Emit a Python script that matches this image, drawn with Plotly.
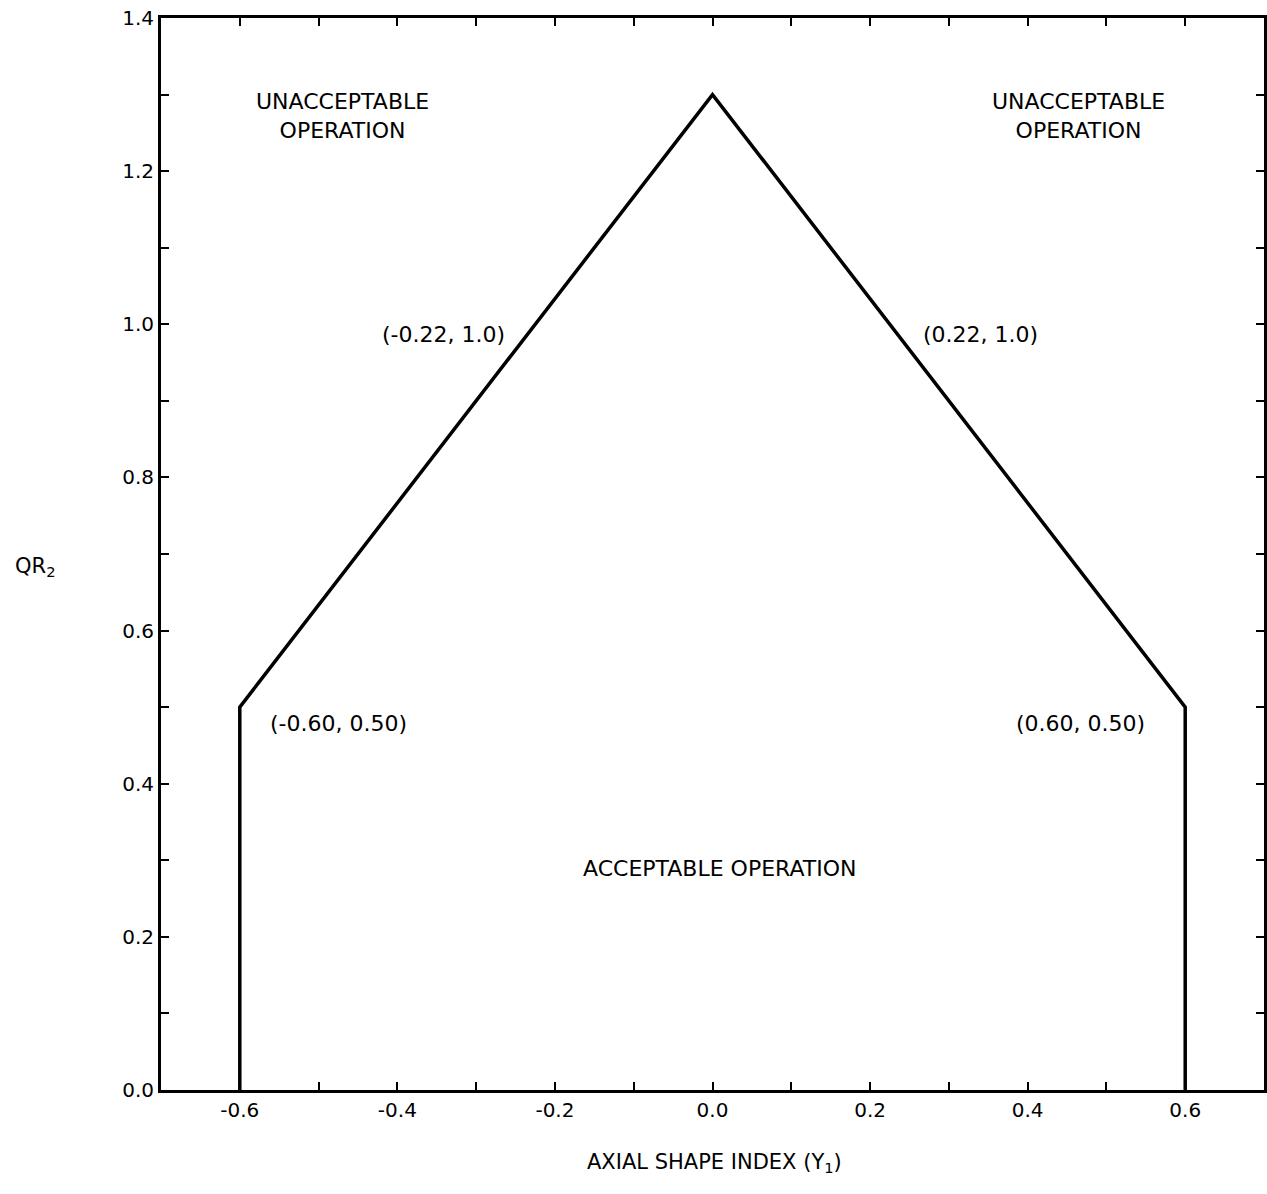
import plotly.graph_objects as go

# Operating boundary: axial shape index vs QR2
boundary_x = [-0.60, -0.60, 0.00, 0.60, 0.60]
boundary_y = [0.00, 0.50, 1.30, 0.50, 0.00]

# Region and point labels (text, x, y)
label_text = ["UNACCEPTABLE<br>OPERATION", "UNACCEPTABLE<br>OPERATION",
              "(-0.22, 1.0)", "(0.22, 1.0)",
              "(-0.60, 0.50)", "(0.60, 0.50)",
              "ACCEPTABLE OPERATION"]
label_x = [-0.47, 0.465, -0.342, 0.34, -0.475, 0.467, 0.009]
label_y = [1.272, 1.272, 0.987, 0.987, 0.479, 0.479, 0.289]

# Labelled ticks (every 0.2); unlabelled minor ticks every 0.1
x_tick_vals = [-0.6, -0.4, -0.2, 0.0, 0.2, 0.4, 0.6]
x_tick_text = ["-0.6", "-0.4", "-0.2", "0.0", "0.2", "0.4", "0.6"]
y_tick_vals = [0.0, 0.2, 0.4, 0.6, 0.8, 1.0, 1.2, 1.4]
y_tick_text = ["0.0", "0.2", "0.4", "0.6", "0.8", "1.0", "1.2", "1.4"]

FONT = "DejaVu Sans, Verdana, sans-serif"

fig = go.Figure()
fig.add_trace(go.Scatter(
    x=boundary_x, y=boundary_y, mode="lines",
    line=dict(color="black", width=3.5),
    hoverinfo="skip", showlegend=False,
))

for t, x, y in zip(label_text, label_x, label_y):
    fig.add_annotation(x=x, y=y, text=t, showarrow=False,
                       font=dict(family=FONT, size=22, color="black"),
                       xanchor="center", yanchor="middle", align="center")

fig.add_annotation(xref="paper", yref="paper", x=-0.114, y=0.488,
                   text="QR<sub>2</sub>", showarrow=False,
                   font=dict(family=FONT, size=21, color="black"),
                   xanchor="center", yanchor="middle")
fig.add_annotation(xref="paper", yref="paper", x=0.502, y=-0.068,
                   text="AXIAL SHAPE INDEX (Y<sub>1</sub>)", showarrow=False,
                   font=dict(family=FONT, size=21, color="black"),
                   xanchor="center", yanchor="middle")

axis_common = dict(
    showgrid=False, zeroline=False,
    showline=True, linecolor="black", linewidth=3, mirror="allticks",
    ticks="inside", ticklen=8, tickwidth=2, tickcolor="black",
    tickfont=dict(family=FONT, size=20, color="black"),
    tickmode="array",
    minor=dict(dtick=0.1, ticks="inside", ticklen=8, tickwidth=2, tickcolor="black", showgrid=False),
)

fig.update_xaxes(range=[-0.7, 0.7], tickvals=x_tick_vals, ticktext=x_tick_text, **axis_common)
fig.update_yaxes(range=[0.0, 1.4], tickvals=y_tick_vals, ticktext=y_tick_text, **axis_common)

fig.update_layout(
    width=1267, height=1194,
    margin=dict(l=161, r=0, t=18, b=104),
    paper_bgcolor="white", plot_bgcolor="white",
    font=dict(family=FONT, color="black"),
)

fig.write_html("out.html")
